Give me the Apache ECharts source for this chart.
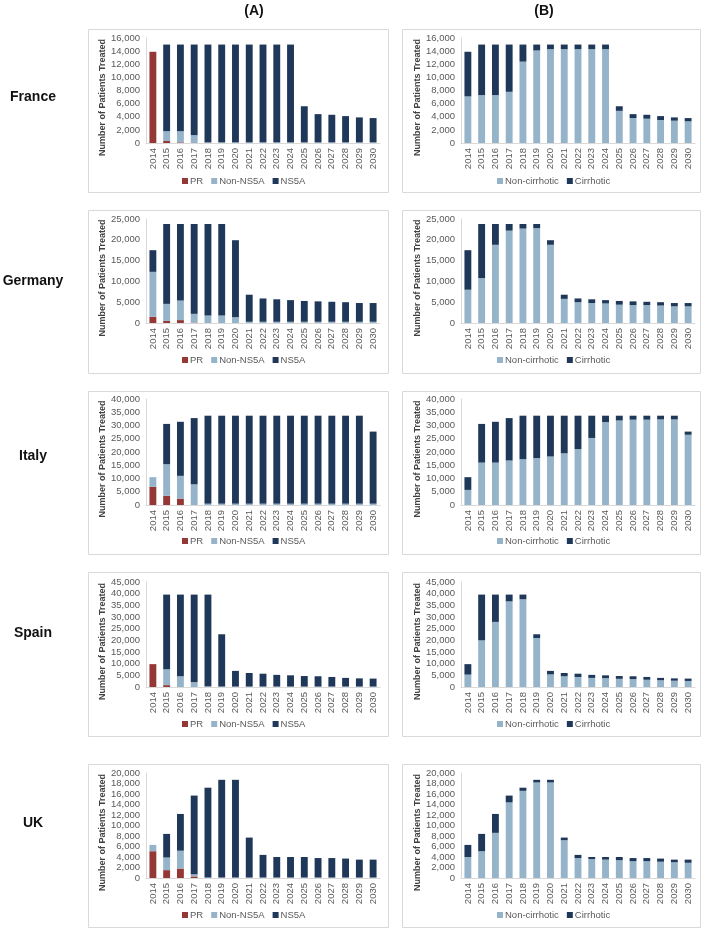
<!DOCTYPE html>
<html>
<head>
<meta charset="utf-8">
<script src="https://cdn.jsdelivr.net/npm/echarts@6/dist/echarts.min.js"></script>
<style>html,body{margin:0;padding:0;background:#fff;}#c{width:703px;height:928px;}</style>
</head>
<body>
<div id="c"></div>
<script>
const years = ['2014','2015','2016','2017','2018','2019','2020','2021','2022','2023','2024','2025','2026','2027','2028','2029','2030'];
const countries = ['France','Germany','Italy','Spain','UK'];
const panelTitles = ['(A)','(B)'];
const legendA = ['PR','Non-NS5A','NS5A'];
const legendB = ['Non-cirrhotic','Cirrhotic'];
const yAxisTitle = 'Number of Patients Treated';
const yAxisMax = [16000, 25000, 40000, 45000, 20000];
const yAxisStep = [2000, 5000, 5000, 5000, 2000];

// France
const franceA_PR      = [13900, 300, 100, 0, 0, 0, 0, 0, 0, 0, 0, 0, 0, 0, 0, 0, 0];
const franceA_NonNS5A = [0, 1500, 1700, 1200, 100, 100, 100, 100, 100, 100, 100, 100, 100, 100, 100, 100, 100];
const franceA_NS5A    = [0, 13200, 13200, 13800, 14900, 14900, 14900, 14900, 14900, 14900, 14900, 5500, 4300, 4200, 4000, 3800, 3700];
const franceB_NonCirrhotic = [7100, 7300, 7300, 7800, 12400, 14100, 14300, 14300, 14300, 14300, 14300, 4900, 3800, 3700, 3500, 3400, 3300];
const franceB_Cirrhotic    = [6800, 7700, 7700, 7200, 2600, 900, 700, 700, 700, 700, 700, 700, 600, 600, 600, 500, 500];

// Germany
const germanyA_PR      = [1500, 500, 700, 100, 0, 0, 0, 0, 0, 0, 0, 0, 0, 0, 0, 0, 0];
const germanyA_NonNS5A = [10800, 4100, 4700, 2100, 1800, 1800, 1400, 300, 300, 300, 300, 300, 300, 300, 300, 300, 300];
const germanyA_NS5A    = [5200, 19200, 18400, 21600, 22000, 22000, 18500, 6500, 5600, 5400, 5200, 5000, 4900, 4800, 4700, 4500, 4500];
const germanyB_NonCirrhotic = [8000, 10800, 18800, 22200, 22700, 22800, 18800, 5800, 5000, 4800, 4700, 4400, 4300, 4300, 4200, 4000, 4000];
const germanyB_Cirrhotic    = [9500, 13000, 5000, 1600, 1100, 1000, 1100, 1000, 900, 900, 800, 900, 900, 800, 800, 800, 800];

// Italy
const italyA_PR      = [6900, 3500, 2400, 0, 0, 0, 0, 0, 0, 0, 0, 0, 0, 0, 0, 0, 0];
const italyA_NonNS5A = [3600, 11900, 8600, 7800, 500, 500, 500, 500, 500, 500, 500, 500, 500, 500, 500, 500, 500];
const italyA_NS5A    = [0, 15200, 20400, 25000, 33200, 33200, 33200, 33200, 33200, 33200, 33200, 33200, 33200, 33200, 33200, 33200, 27200];
const italyB_NonCirrhotic = [5700, 16000, 16000, 16800, 17300, 17700, 18300, 19500, 21100, 25300, 31300, 31900, 32200, 32200, 32300, 32300, 26500];
const italyB_Cirrhotic    = [4800, 14600, 15400, 16000, 16400, 16000, 15400, 14200, 12600, 8400, 2400, 1800, 1500, 1500, 1400, 1400, 1200];

// Spain
const spainA_PR      = [9800, 800, 0, 0, 0, 0, 0, 0, 0, 0, 0, 0, 0, 0, 0, 0, 0];
const spainA_NonNS5A = [0, 6800, 4600, 2100, 300, 200, 200, 200, 200, 200, 200, 200, 200, 200, 200, 200, 200];
const spainA_NS5A    = [0, 32000, 35000, 37500, 39300, 22400, 6700, 5800, 5500, 5000, 4800, 4500, 4400, 4100, 3700, 3500, 3400];
const spainB_NonCirrhotic = [5300, 20000, 27900, 36700, 37600, 21000, 5400, 4600, 4300, 3900, 3800, 3500, 3400, 3100, 2900, 2700, 2600];
const spainB_Cirrhotic    = [4500, 19600, 11700, 2900, 2000, 1600, 1500, 1400, 1400, 1300, 1200, 1200, 1200, 1200, 1000, 1000, 1000];

// UK
const ukA_PR      = [5100, 1500, 1800, 300, 0, 0, 0, 0, 0, 0, 0, 0, 0, 0, 0, 0, 0];
const ukA_NonNS5A = [1200, 2400, 3400, 400, 100, 100, 100, 100, 100, 100, 100, 100, 100, 100, 100, 100, 100];
const ukA_NS5A    = [0, 4500, 7000, 15000, 17100, 18600, 18600, 7600, 4300, 3900, 3900, 3900, 3700, 3700, 3600, 3400, 3400];
const ukB_NonCirrhotic = [4000, 5100, 8600, 14400, 16600, 18200, 18200, 7200, 3800, 3600, 3500, 3400, 3200, 3200, 3100, 3000, 2900];
const ukB_Cirrhotic    = [2300, 3300, 3600, 1300, 600, 500, 500, 500, 600, 400, 500, 600, 600, 600, 600, 500, 600];

const panelsA = [
  [franceA_PR, franceA_NonNS5A, franceA_NS5A],
  [germanyA_PR, germanyA_NonNS5A, germanyA_NS5A],
  [italyA_PR, italyA_NonNS5A, italyA_NS5A],
  [spainA_PR, spainA_NonNS5A, spainA_NS5A],
  [ukA_PR, ukA_NonNS5A, ukA_NS5A]
];
const panelsB = [
  [franceB_NonCirrhotic, franceB_Cirrhotic],
  [germanyB_NonCirrhotic, germanyB_Cirrhotic],
  [italyB_NonCirrhotic, italyB_Cirrhotic],
  [spainB_NonCirrhotic, spainB_Cirrhotic],
  [ukB_NonCirrhotic, ukB_Cirrhotic]
];

// ---- layout & style ----
const FONT = 'Liberation Sans, Arial, sans-serif';
const colorsA = ['#953735', '#95b3c9', '#1f3859'];
const colorsB = ['#95b3c9', '#1f3859'];
const gridTop = [38, 219, 399, 582, 773];
const gridH = [105, 104, 106, 105, 105];
const colLeft = [146, 461];
const colW = 234;
const boxLeft = [88, 402];
const boxRight = [388, 700];
const boxTop = [29, 210, 391, 572, 764];
const boxBottom = [192, 373, 554, 736, 927];
const legendTop = [176, 355, 536, 719, 910];
const legendLeft = [182, 497];
const rowLabelY = [97, 281, 456, 633, 823];

const grids = [], xAxes = [], yAxes = [], series = [], legends = [], graphics = [];

function fmt(v){ return String(v).replace(/\B(?=(\d{3})+(?!\d))/g, ','); }

for (let r = 0; r < 5; r++) {
  for (let c = 0; c < 2; c++) {
    const idx = grids.length;
    graphics.push({type:'rect', z:-10, shape:{x:boxLeft[c]+0.5, y:boxTop[r]+0.5, width:boxRight[c]-boxLeft[c], height:boxBottom[r]-boxTop[r]},
      style:{fill:'#fff', stroke:'#d9d9d9', lineWidth:1}});
    grids.push({left: colLeft[c], top: gridTop[r], width: colW, height: gridH[r], containLabel:false});
    xAxes.push({type:'category', gridIndex: idx, data: years,
      axisLine:{show:true, lineStyle:{color:'#d9d9d9', width:1}}, axisTick:{show:false},
      axisLabel:{rotate:90, interval:0, fontSize:9.5, color:'#595959', fontFamily:FONT, margin:5}});
    yAxes.push({type:'value', gridIndex: idx, min:0, max:yAxisMax[r], interval:yAxisStep[r],
      axisLine:{show:true, lineStyle:{color:'#d9d9d9', width:1}}, axisTick:{show:false}, splitLine:{show:false},
      axisLabel:{fontSize:9.5, color:'#595959', fontFamily:FONT, margin:6, formatter: fmt}});
    const names = c === 0 ? legendA : legendB;
    const data = c === 0 ? panelsA[r] : panelsB[r];
    const cols = c === 0 ? colorsA : colorsB;
    names.forEach((n, k) => {
      series.push({type:'bar', name:n, xAxisIndex: idx, yAxisIndex: idx, stack:'s'+idx, data: data[k],
        barWidth:'50%', itemStyle:{color: cols[k]}, emphasis:{disabled:true}, animation:false});
    });
    legends.push({data: names, left: legendLeft[c], top: legendTop[r], orient:'horizontal', icon:'rect', padding:0,
      itemWidth:6, itemHeight:6, itemGap:8, textStyle:{fontSize:9.5, color:'#595959', fontFamily:FONT, padding:[0,0,0,-3]}});
    graphics.push({type:'text', x: c === 0 ? 103 : 418, y: gridTop[r] + gridH[r]/2 + 7, rotation: Math.PI/2,
      style:{text: yAxisTitle, font:'bold 9px ' + FONT, fill:'#404040', textAlign:'center', textVerticalAlign:'middle'}});
  }
  graphics.push({type:'text', x: 33, y: rowLabelY[r], style:{text: countries[r], font:'bold 14px ' + FONT, fill:'#111',
    textAlign:'center', textVerticalAlign:'middle'}});
}
graphics.push({type:'text', x: 254, y: 11, style:{text: panelTitles[0], font:'bold 14px ' + FONT, fill:'#111', textAlign:'center', textVerticalAlign:'middle'}});
graphics.push({type:'text', x: 544, y: 11, style:{text: panelTitles[1], font:'bold 14px ' + FONT, fill:'#111', textAlign:'center', textVerticalAlign:'middle'}});

const chart = echarts.init(document.getElementById('c'), null, {renderer:'canvas'});
chart.setOption({
  backgroundColor:'#fff', animation:false,
  grid: grids, xAxis: xAxes, yAxis: yAxes, series: series, legend: legends, graphic: graphics
});
</script>
</body>
</html>
